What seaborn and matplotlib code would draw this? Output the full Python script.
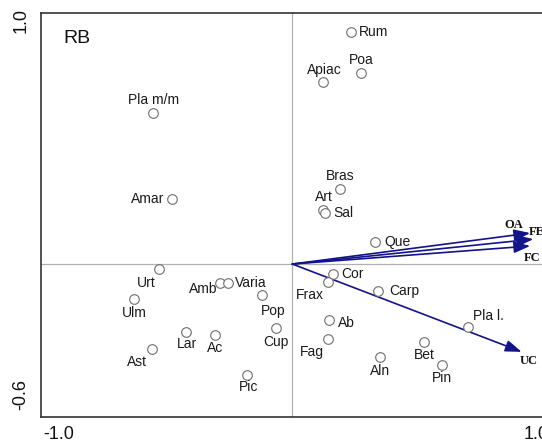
import matplotlib
matplotlib.use("Agg")
import matplotlib.pyplot as plt
import matplotlib.transforms as mtransforms
import seaborn as sns
import pandas as pd

# Species scores on the first two ordination axes
species = ["Rum", "Poa", "Apiac", "Pla m/m", "Amar", "Bras", "Art", "Sal", "Que",
           "Cor", "Frax", "Carp", "Urt", "Amb", "Varia", "Pop", "Ulm", "Lar", "Ac",
           "Cup", "Ast", "Pic", "Ab", "Fag", "Aln", "Bet", "Pin", "Pla l."]
axis1 = [0.242, 0.283, 0.127, -0.570, -0.492, 0.197, 0.127, 0.135, 0.340,
         0.168, 0.148, 0.352, -0.545, -0.295, -0.262, -0.123, -0.648, -0.434, -0.316,
         -0.066, -0.574, -0.184, 0.152, 0.148, 0.361, 0.541, 0.615, 0.721]
axis2 = [0.951, 0.783, 0.746, 0.619, 0.266, 0.307, 0.221, 0.209, 0.090,
         -0.041, -0.074, -0.111, -0.020, -0.078, -0.078, -0.127, -0.143, -0.279, -0.291,
         -0.262, -0.348, -0.455, -0.230, -0.307, -0.381, -0.320, -0.414, -0.258]

# Explanatory variables (biplot arrows)
variables = ["OA", "FE", "FC", "UC"]
var_axis1 = [0.975, 0.988, 0.975, 0.940]
var_axis2 = [0.127, 0.102, 0.074, -0.360]

panel_label = "RB"
x_tick_labels = {-1.0: "-1.0", 1.0: "1.0"}
y_tick_labels = {-0.6: "-0.6", 1.0: "1.0"}

# Label placement around each symbol: (dx px, dy px, horizontal alignment)
label_layout = {
    "Rum": (8, 0, "left"), "Poa": (0, 13, "center"), "Apiac": (1, 12, "center"),
    "Pla m/m": (0, 13, "center"), "Amar": (-8, 0, "right"), "Bras": (0, 13, "center"),
    "Art": (1, 13, "center"), "Sal": (8, 0, "left"), "Que": (9, 0, "left"),
    "Cor": (8, 0, "left"), "Frax": (-19, -13, "center"), "Carp": (11, 0, "left"),
    "Urt": (-13, -14, "center"), "Amb": (-3, -6, "right"), "Varia": (7, 0, "left"),
    "Pop": (11, -16, "center"), "Ulm": (0, -14, "center"), "Lar": (1, -12, "center"),
    "Ac": (0, -13, "center"), "Cup": (0, -14, "center"), "Ast": (-15, -13, "center"),
    "Pic": (1, -12, "center"), "Ab": (9, -3, "left"), "Fag": (-17, -13, "center"),
    "Aln": (0, -14, "center"), "Bet": (0, -13, "center"), "Pin": (0, -13, "center"),
    "Pla l.": (20, 11, "center"),
}
var_layout = {"OA": (-16, 8, "center"), "FE": (-5, 7, "left"),
              "FC": (2, -12, "center"), "UC": (7, -9, "center")}

sns.set_style("white")
plt.rcParams["font.family"] = ["Liberation Sans", "DejaVu Sans"]

df = pd.DataFrame({"species": species, "axis1": axis1, "axis2": axis2})

fig = plt.figure(figsize=(5.42, 4.45), dpi=100)
ax = fig.add_axes([41 / 542, 28 / 445, 507.5 / 542, 404 / 445])
ax.set_xlim(-1.03, 1.05)
ax.set_ylim(-0.627, 1.029)

# zero reference lines
ax.axhline(0, color="#b0b0b0", lw=0.9, zorder=1)
ax.axvline(0, color="#b0b0b0", lw=0.9, zorder=1)

sns.scatterplot(data=df, x="axis1", y="axis2", ax=ax, marker="o", s=48,
                facecolor="white", edgecolor="#6e6e6e", linewidth=0.8, zorder=3)

for name, x, y in zip(species, axis1, axis2):
    dx, dy, ha = label_layout[name]
    ax.annotate(name, (x, y), xytext=(dx, dy), textcoords="offset pixels",
                ha=ha, va="center", fontsize=10, color="#1a1a1a", zorder=4)

arrow_color = "#13138a"
for name, x, y in zip(variables, var_axis1, var_axis2):
    ax.annotate("", xy=(x, y), xytext=(0, 0),
                arrowprops=dict(arrowstyle="-|>,head_length=0.7,head_width=0.25",
                                color=arrow_color, lw=1.2, shrinkA=0, shrinkB=0,
                                mutation_scale=14),
                zorder=2)
    dx, dy, ha = var_layout[name]
    ax.annotate(name, (x, y), xytext=(dx, dy), textcoords="offset pixels",
                ha=ha, va="center", fontsize=9, fontweight="bold",
                family=["Liberation Serif", "DejaVu Serif"], color="#111111", zorder=4)

# panel letter, placed in display pixels
ax.text(63, 445 - 43, panel_label, transform=mtransforms.IdentityTransform(),
        fontsize=14, ha="left", va="baseline", color="#111111")

# ticks: marks everywhere, labels at the axis ends only
xt = [-1.0, -0.5, 0.0, 0.5, 1.0]
yt = [-0.6, -0.4, -0.2, 0.0, 0.2, 0.4, 0.6, 0.8, 1.0]
ax.set_xticks(xt)
ax.set_xticklabels([x_tick_labels.get(v, "") for v in xt])
ax.set_yticks(yt)
ax.set_yticklabels([y_tick_labels.get(round(v, 1), "") for v in yt], rotation=90)
ax.tick_params(axis="both", direction="inout", length=5, width=1.0,
               colors="#333333", labelcolor="#111111", labelsize=13)
ax.tick_params(axis="x", pad=4)
ax.tick_params(axis="y", pad=6)
for lab in ax.get_yticklabels():
    lab.set_va("center")
    if lab.get_text() == "-0.6":
        lab.set_va("bottom")
for lab in ax.get_xticklabels():
    if lab.get_text() == "-1.0":
        lab.set_ha("left")
        lab.set_transform(lab.get_transform() +
                          mtransforms.ScaledTranslation(-5 / 100, 0, fig.dpi_scale_trans))

for side in ["left", "bottom", "top", "right"]:
    ax.spines[side].set_color("#333333")
    ax.spines[side].set_linewidth(1.2)
ax.set_xlabel("")
ax.set_ylabel("")

fig.savefig("out.png", dpi=100)
